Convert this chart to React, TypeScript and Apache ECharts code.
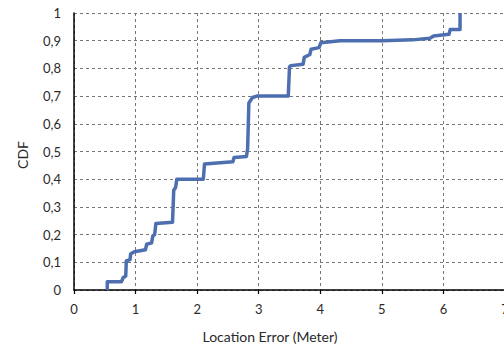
import React, { useEffect, useRef } from "react";
import * as echarts from "echarts";

// Location error (m) at each vertex of the empirical CDF curve
const errorMeters = [
  0.54, 0.54, 0.77, 0.8, 0.84, 0.85, 0.91, 0.92, 0.98, 1.16, 1.18, 1.26, 1.28, 1.31, 1.33,
  1.6, 1.62, 1.65, 1.67, 2.1, 2.12, 2.58, 2.6, 2.8, 2.82, 2.84, 2.9, 2.97, 3.48, 3.5, 3.52,
  3.72, 3.74, 3.83, 3.85, 3.98, 4.01, 4.32, 5.0, 5.5, 5.78, 5.84, 6.09, 6.11, 6.27, 6.27,
];
// CDF value at each vertex
const cdfValues = [
  0.0, 0.03, 0.03, 0.045, 0.05, 0.105, 0.11, 0.13, 0.138, 0.145, 0.165, 0.17, 0.195, 0.2, 0.24,
  0.245, 0.36, 0.37, 0.4, 0.4, 0.455, 0.463, 0.478, 0.482, 0.51, 0.675, 0.695, 0.7, 0.7, 0.805, 0.81,
  0.815, 0.84, 0.85, 0.869, 0.875, 0.893, 0.9, 0.9, 0.903, 0.909, 0.917, 0.923, 0.94, 0.94, 1.0,
];

const xTitle = "Location Error (Meter)";
const yTitle = "CDF";

export default function App() {
  const ref = useRef<HTMLDivElement>(null);

  useEffect(() => {
    if (!ref.current) return;
    const chart = echarts.init(ref.current, undefined, { renderer: "svg" });
    const font = "Lato";
    const textColor = "#2a2a2a";
    const data = errorMeters.map((x, i) => [x, cdfValues[i]]);
    chart.setOption({
      animation: false,
      backgroundColor: "#ffffff",
      grid: { left: 74, top: 13, bottom: 58, right: 25, containLabel: false },
      xAxis: {
        type: "value",
        min: 0,
        max: 7,
        interval: 1,
        axisLine: { show: true, lineStyle: { color: "#000", width: 1.5 } },
        axisTick: { show: true, length: 4, lineStyle: { color: "#000", width: 1.2 } },
        axisLabel: { color: textColor, fontFamily: font, fontSize: 13, margin: 12 },
        splitLine: { show: true, lineStyle: { color: "#777", type: [3, 3], width: 1 } },
      },
      yAxis: {
        type: "value",
        min: 0,
        max: 1,
        interval: 0.1,
        axisLine: { show: true, lineStyle: { color: "#000", width: 1.5 } },
        axisTick: { show: false },
        axisLabel: {
          color: textColor,
          fontFamily: font,
          fontSize: 13,
          margin: 13,
          formatter: (v: number) => (Math.round(v * 10) / 10).toString().replace(".", ","),
        },
        splitLine: { show: true, lineStyle: { color: "#777", type: [3, 3], width: 1 } },
      },
      graphic: [
        {
          type: "text",
          x: 270,
          y: 336,
          style: {
            text: xTitle,
            fill: textColor,
            font: `14px ${font}`,
            align: "center",
            verticalAlign: "middle",
          },
        },
        {
          type: "text",
          x: 22,
          y: 155,
          rotation: Math.PI / 2,
          style: {
            text: yTitle,
            fill: textColor,
            font: `14px ${font}`,
            align: "center",
            verticalAlign: "middle",
          },
        },
      ],
      series: [
        {
          type: "line",
          data,
          showSymbol: false,
          symbol: "none",
          lineStyle: { color: "#4D6FAF", width: 3.5, join: "round", cap: "butt" },
        },
      ],
    });
    return () => chart.dispose();
  }, []);

  return (
    <div
      style={{
        position: "fixed",
        left: 0,
        top: 0,
        width: 504,
        height: 348,
        overflow: "hidden",
        background: "#fff",
      }}
    >
      <div ref={ref} style={{ width: 530, height: 348 }} />
    </div>
  );
}
